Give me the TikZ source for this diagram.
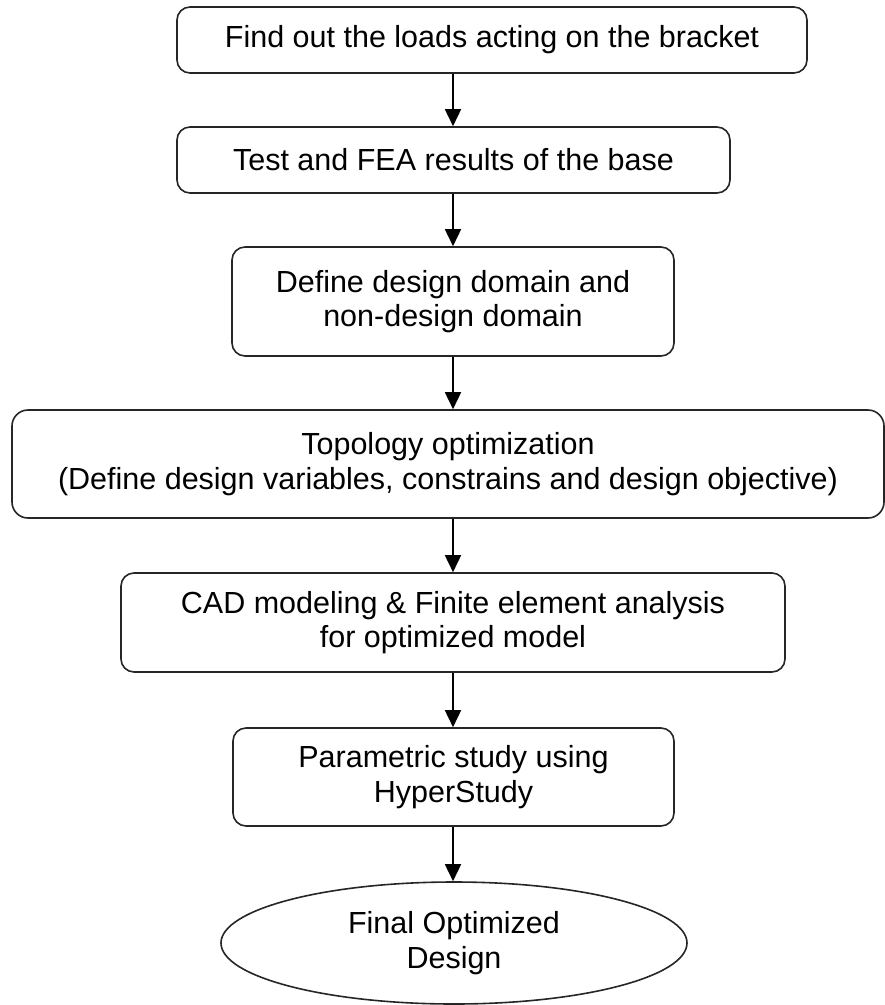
\documentclass[tikz,border=0pt]{standalone}
\usepackage{fontspec}
\setmainfont{Liberation Sans}
\usetikzlibrary{arrows.meta,shapes.geometric}
\begin{document}
\begin{tikzpicture}[x=1pt,y=-1pt,
  every node/.style={font=\fontsize{30.5}{34.5}\selectfont, text=black, align=center, inner sep=0pt},
  procbox/.style={draw=black!85, line width=1.6pt, rectangle, rounded corners=13pt},
  endbox/.style={draw=black!85, line width=1.6pt, ellipse},
  arr/.style={draw=black, line width=1.6pt, -{Triangle[length=17pt,width=16pt]}}]
\useasboundingbox (0,0) rectangle (885,1005);
\node[procbox, minimum width=630pt, minimum height=66pt] (b1) at (492,40) {Find out the loads acting on the bracket};
\node[procbox, minimum width=553pt, minimum height=66pt] (b2) at (453.5,160) {Test and FEA results of the base};
\node[procbox, minimum width=442pt, minimum height=109pt] (b3) at (453,301.5) {Define design domain and\\non-design domain};
\node[procbox, minimum width=872pt, minimum height=108pt, rounded corners=16pt] (b4) at (448,464) {Topology optimization\\(Define design variables, constrains and design objective)};
\node[procbox, minimum width=664pt, minimum height=99pt] (b5) at (453,622.5) {CAD modeling \& Finite element analysis\\for optimized model};
\node[procbox, minimum width=441pt, minimum height=98pt] (b6) at (453.5,777) {Parametric study using\\HyperStudy};
\node[endbox, minimum width=466pt, minimum height=122pt] (e) at (454,943) {Final Optimized\\Design};
\draw[arr] (b1.south -| b3) -- (b2.north -| b3);
\draw[arr] (b2.south -| b3) -- (b3.north);
\draw[arr] (b3.south) -- (b4.north -| b3);
\draw[arr] (b4.south -| b3) -- (b5.north -| b3);
\draw[arr] (b5.south -| b3) -- (b6.north -| b3);
\draw[arr] (b6.south -| b3) -- (e.north -| b3);
\end{tikzpicture}
\end{document}
